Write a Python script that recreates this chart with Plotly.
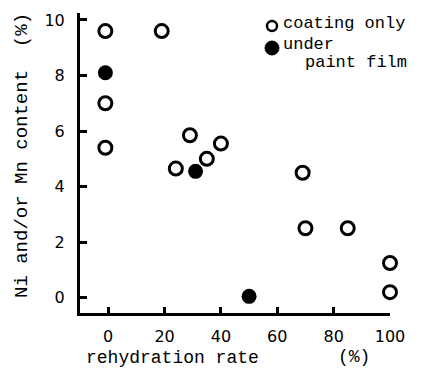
import plotly.graph_objects as go

# coating only (open circles)
open_x = [-1, 19, -1, -1, 24, 29, 35, 40, 69, 70, 85, 100, 100]
open_y = [9.6, 9.6, 7.0, 5.4, 4.65, 5.85, 5.0, 5.55, 4.5, 2.5, 2.5, 1.25, 0.2]
# under paint film (filled circles)
fill_x = [-1, 31, 50]
fill_y = [8.1, 4.55, 0.05]

x_ticks = [0, 20, 40, 60, 80, 100]
y_ticks = [0, 2, 4, 6, 8, 10]

MONO = "Liberation Mono, Courier New, monospace"
SANS = "DejaVu Sans, Arial, sans-serif"

W, H = 427, 369
L, R, T, B = 80, 37, 13, 56
PW, PH = W - L - R, H - T - B


def px(x):
    return (x - L) / PW


def py(y):
    return (H - B - y) / PH


fig = go.Figure()
fig.add_trace(go.Scatter(x=open_x, y=open_y, mode="markers", name="coating only",
                         marker=dict(symbol="circle-open", size=13, color="black",
                                     line=dict(width=3, color="black")),
                         cliponaxis=False, showlegend=False))
fig.add_trace(go.Scatter(x=fill_x, y=fill_y, mode="markers", name="under paint film",
                         marker=dict(symbol="circle", size=15, color="black"),
                         cliponaxis=False, showlegend=False))

fig.update_layout(
    width=W, height=H,
    margin=dict(l=L, r=R, t=T, b=B),
    plot_bgcolor="white", paper_bgcolor="white",
    showlegend=False,
    xaxis=dict(range=[-10, 100], tickvals=x_ticks, showgrid=False, zeroline=False,
               showline=True, linecolor="black", linewidth=3, automargin=False,
               ticks="inside", ticklen=6, tickwidth=2.5, tickcolor="black",
               ticklabelstandoff=7,
               tickfont=dict(family=SANS, size=16, color="black")),
    yaxis=dict(range=[-0.55, 10.25], tickvals=y_ticks, showgrid=False, zeroline=False,
               showline=True, linecolor="black", linewidth=3, automargin=False,
               ticks="inside", ticklen=7, tickwidth=2.5, tickcolor="black",
               ticklabelstandoff=9,
               tickfont=dict(family=SANS, size=16, color="black")),
)

anns = [
    dict(text="rehydration rate", x=172, y=358),
    dict(text="(%)", x=354, y=357),
    dict(text="Ni and/or Mn content  (%)", x=22, y=156, textangle=-90, size=19),
    dict(text="coating only", x=282, y=24, xanchor="left", size=17),
    dict(text="under", x=282, y=44, xanchor="left", size=17),
    dict(text="paint film", x=304, y=63, xanchor="left", size=17),
]
for a in anns:
    fig.add_annotation(
        text=a["text"], x=px(a["x"]), y=py(a["y"]), xref="paper", yref="paper",
        xanchor=a.get("xanchor", "center"), yanchor="middle", showarrow=False,
        textangle=a.get("textangle", 0), borderpad=0,
        font=dict(family=MONO, size=a.get("size", 18), color="black"))

# legend symbols
fig.add_shape(type="circle", xref="paper", yref="paper",
              x0=px(272 - 5), x1=px(272 + 5), y0=py(26 + 5), y1=py(26 - 5),
              line=dict(color="black", width=2.5))
fig.add_shape(type="circle", xref="paper", yref="paper",
              x0=px(272 - 7), x1=px(272 + 7), y0=py(48 + 7), y1=py(48 - 7),
              line=dict(color="black", width=1), fillcolor="black")

fig.write_html("out.html", config={"displayModeBar": False},
               post_script="document.body.style.margin='0';document.body.style.overflow='hidden';")
